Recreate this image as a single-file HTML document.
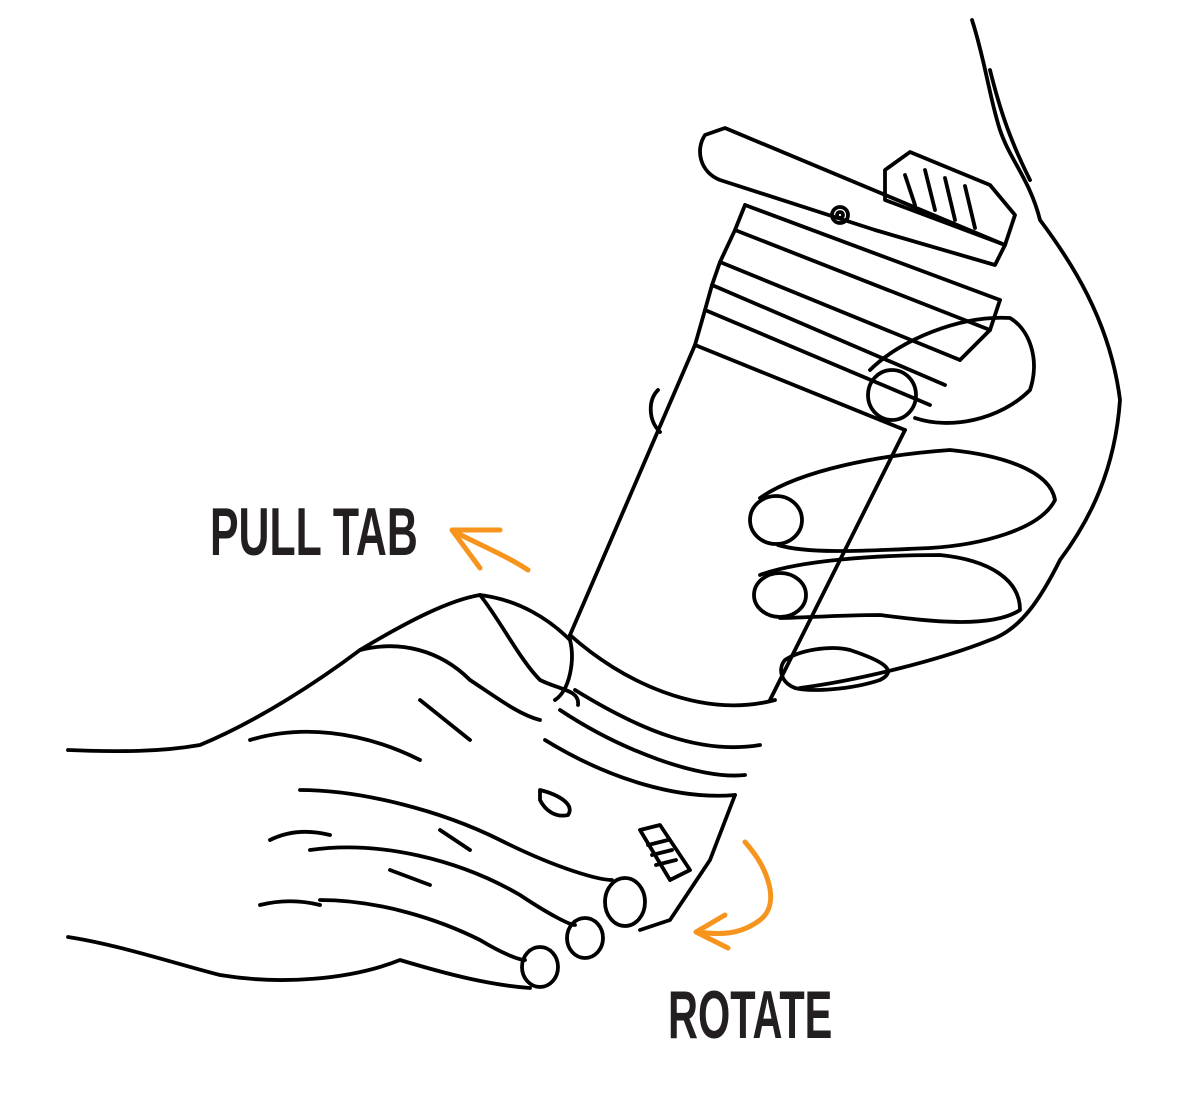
<!DOCTYPE html>
<html><head><meta charset="utf-8"><style>
html,body{margin:0;padding:0;background:#fff;}
svg{display:block}
text{font-family:"Liberation Sans",sans-serif;font-weight:bold;fill:#231f20}
</style></head><body>
<svg width="1198" height="1120" viewBox="0 0 1198 1120" xmlns="http://www.w3.org/2000/svg">
<g fill="none" stroke="#000" stroke-width="3.8" stroke-linecap="round" stroke-linejoin="round">
<path d="M972 20 C985 60 990 100 1000 130 C1010 160 1030 180 1040 220 C1070 260 1110 320 1120 400 C1115 470 1090 520 1060 560 C1040 600 1020 630 990 640 C940 660 860 680 800 688"/>
<path d="M990 70 C1000 110 1010 140 1030 180"/>
<path d="M705 135 L725 128 L1005 245 L995 265 L875 230 L720 180 C700 172 695 150 705 135Z"/>
<path d="M885 170 L910 152 L990 185 L1015 215 L1005 245 L885 200Z"/>
<path d="M905 175 L915 205 M925 170 L935 210 M945 178 L955 220 M965 186 L975 228"/>
<circle cx="840" cy="215" r="8"/><circle cx="840" cy="215" r="3"/>
<path d="M745 205 L1000 300 M735 230 L990 330 M720 262 L960 360 M712 285 L945 385 M705 310 L930 405 M695 345 L905 430"/>
<path d="M745 205 L735 230 L720 262 L712 285 L705 310 L695 345"/>
<path d="M1000 300 L990 330 L960 360"/>
<path d="M695 345 L570 635"/>
<path d="M905 430 L770 700"/>
<path d="M570 635 C620 680 700 720 775 700"/>
<path d="M575 690 C640 730 700 755 760 745"/>
<path d="M560 710 C620 750 700 780 745 775"/>
<path d="M545 740 C610 780 680 800 735 795"/>
<path d="M735 795 L710 860 L670 920 L640 930"/>
<path d="M640 830 L660 825 L690 870 L670 880Z"/>
<path d="M648 845 L668 840 M652 855 L672 850 M656 865 L676 860"/>
<ellipse cx="892" cy="395" rx="24" ry="25"/>
<path d="M870 370 C900 340 960 315 1010 318 C1030 330 1040 360 1030 390 C1000 420 950 430 915 418"/>
<ellipse cx="776" cy="520" rx="26" ry="24"/>
<path d="M760 498 C800 470 880 455 950 450 C1000 455 1050 470 1055 500 C1040 530 980 545 930 548 C880 550 810 555 778 545"/>
<ellipse cx="780" cy="595" rx="26" ry="22"/>
<path d="M760 575 C800 560 880 555 940 555 C990 560 1020 580 1020 610 C990 630 920 620 880 615 C840 615 800 618 780 618"/>
<path d="M785 660 C800 650 830 645 850 650 C880 660 900 670 880 680 C850 690 810 692 795 688 C780 682 778 668 785 660Z"/>
<path d="M658 390 C648 400 648 420 660 432"/>
<path d="M68 750 C120 752 160 752 200 745 C260 720 320 680 360 650 C410 620 450 600 480 595 C520 600 550 620 570 640 C575 660 570 690 555 700"/>
<path d="M360 650 C400 640 440 650 470 680 C500 700 520 715 540 720"/>
<path d="M480 595 C500 620 520 660 540 680 C560 690 580 690 578 705"/>
<path d="M68 937 C120 945 180 965 220 975 C280 985 350 980 400 960 C450 975 490 985 530 988"/>
<ellipse cx="625" cy="902" rx="20" ry="24"/>
<path d="M300 790 C360 790 440 810 500 840 C560 870 600 880 612 880"/>
<ellipse cx="585" cy="938" rx="18" ry="20"/>
<path d="M310 850 C380 840 460 860 520 895 C550 915 570 925 575 925"/>
<ellipse cx="540" cy="967" rx="18" ry="20"/>
<path d="M320 900 C380 900 440 920 480 940 C505 955 520 960 525 960"/>
<path d="M540 790 C560 795 575 805 568 815 C555 818 545 810 540 800Z"/>
<path d="M250 740 C300 725 360 730 420 760 M270 840 C290 830 310 830 330 835 M260 905 C280 900 300 900 320 905 M420 700 L470 740 M390 870 L430 885 M440 830 L470 850"/>
</g>
<g fill="none" stroke="#f7941d" stroke-width="5" stroke-linecap="round" stroke-linejoin="round">
<path d="M528 570 C505 555 480 545 455 532"/>
<path d="M452 530 L500 530 M452 530 L480 568"/>
<path d="M745 842 C770 870 780 905 760 920 C740 935 720 935 698 932"/>
<path d="M696 932 L725 915 M696 932 L728 948"/>
</g>
<text x="210" y="555" font-size="68" transform="translate(210 0) scale(0.63 1) translate(-210 0)">PULL TAB</text>
<text x="668" y="1038" font-size="68" transform="translate(668 0) scale(0.61 1) translate(-668 0)">ROTATE</text>
</svg>
</body></html>
